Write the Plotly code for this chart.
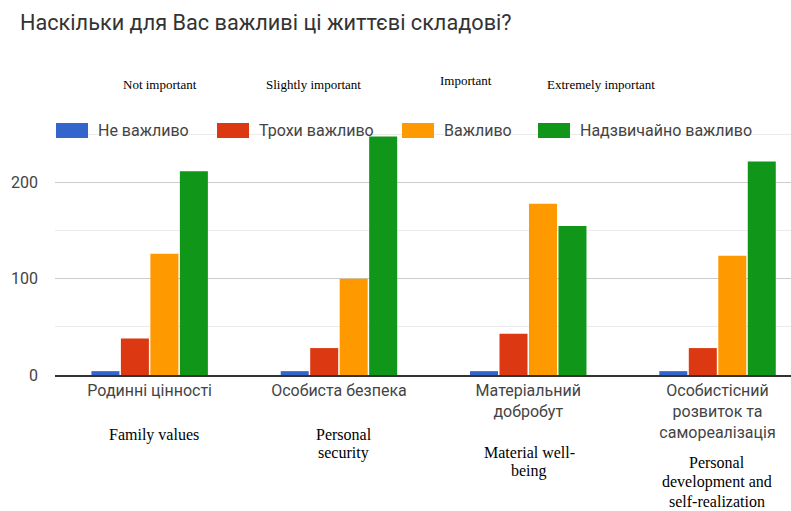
import plotly.graph_objects as go

# Survey answers: how important are these life components
categories = [
    "Родинні цінності",
    "Особиста безпека",
    "Матеріальний<br>добробут",
    "Особистісний<br>розвиток та<br>самореалізація",
]
categories_en = [
    ["Family values"],
    ["Personal", "security"],
    ["Material well-", "being"],
    ["Personal", "development and", "self-realization"],
]
series_names = ["Не важливо", "Трохи важливо", "Важливо", "Надзвичайно важливо"]
series_names_en = ["Not important", "Slightly important", "Important", "Extremely important"]
not_important = [4, 4, 4, 4]
slightly_important = [38, 28, 43, 28]
important = [126, 100, 178, 124]
extremely_important = [212, 248, 155, 222]
y_ticks = [0, 100, 200]
y_minor = [50, 150, 250]

series_values = [not_important, slightly_important, important, extremely_important]
colors = ["#3366cc", "#dc3912", "#ff9900", "#109618"]

W, H = 791, 511
ML, MR, MT, MB = 55, 0, 125, 136
PW, PH = W - ML - MR, H - MT - MB


def px_x(px):
    return (px - ML) / PW


def px_y(py):
    return (H - MB - py) / PH


fig = go.Figure()
for name, vals, col in zip(series_names, series_values, colors):
    fig.add_trace(go.Bar(
        x=categories, y=vals, name=name,
        marker=dict(color=col, line=dict(width=0)),
        showlegend=False,
    ))

sans = "Roboto, Arial, sans-serif"
serif = "Liberation Serif, Times New Roman, serif"

annotations = []
shapes = []

# Legend row drawn as swatches + labels
swatch_x = [56, 217, 402, 538]
for sx, name, col in zip(swatch_x, series_names, colors):
    shapes.append(dict(
        type="rect", xref="paper", yref="paper",
        x0=px_x(sx), x1=px_x(sx + 32), y0=px_y(138), y1=px_y(123),
        fillcolor=col, line=dict(width=0), layer="above",
    ))
    annotations.append(dict(
        text=name, xref="paper", yref="paper",
        x=px_x(sx + 40), y=px_y(130), xanchor="left", yanchor="middle",
        showarrow=False, font=dict(family=sans, size=16, color="#444444"),
    ))

# English captions for the legend entries
top_x = [160, 313, 466, 601]
top_y = [84, 84, 80, 84]
for tx, ty, t in zip(top_x, top_y, series_names_en):
    annotations.append(dict(
        text=t, xref="paper", yref="paper", x=px_x(tx), y=px_y(ty),
        xanchor="center", yanchor="middle", showarrow=False,
        font=dict(family=serif, size=13, color="#000000"),
    ))

# English captions under the category labels, one line at a time
first_line_y = [435, 434, 452, 463]
line_step = 19
bottom_shift = [4, 5, 1, -1]
for cat, lines, fy, sh in zip(categories, categories_en, first_line_y, bottom_shift):
    for i, line in enumerate(lines):
        annotations.append(dict(
            text=line, xref="x", yref="paper", x=cat,
            y=px_y(fy + i * line_step), xshift=sh,
            xanchor="center", yanchor="middle", showarrow=False,
            font=dict(family=serif, size=16, color="#000000"),
        ))

fig.update_layout(
    width=W, height=H,
    margin=dict(l=ML, r=MR, t=MT, b=MB, pad=0),
    paper_bgcolor="white", plot_bgcolor="white",
    barmode="group", bargap=0.377, bargroupgap=0.05,
    title=dict(
        text="Наскільки для Вас важливі ці життєві складові?",
        xref="container", yref="container", x=20 / W, y=1 - 22 / H,
        xanchor="left", yanchor="middle",
        font=dict(family=sans, size=21.7, color="#333333"),
    ),
    xaxis=dict(
        range=[-0.5, PW / 189.3 - 0.5],
        showline=True, linecolor="#333333", linewidth=2,
        showgrid=False, ticks="",
        tickfont=dict(family=sans, size=16, color="#444444"),
    ),
    yaxis=dict(
        range=[0, 260], tickvals=y_ticks,
        showgrid=True, gridcolor="#cccccc", gridwidth=1,
        zeroline=False, showline=False, ticks="",
        ticklabelstandoff=16,
        tickfont=dict(family=sans, size=16, color="#444444"),
        minor=dict(tickvals=y_minor, showgrid=True, gridcolor="#ebebeb", gridwidth=1),
    ),
    annotations=annotations, shapes=shapes,
)

fig.write_html("out.html")
